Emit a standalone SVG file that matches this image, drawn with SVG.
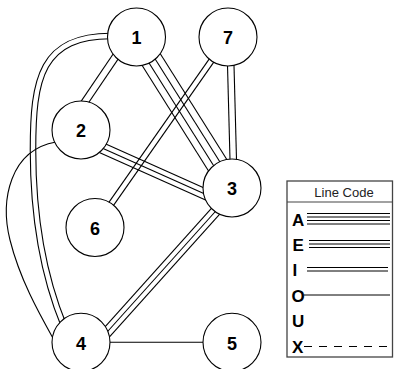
<svg xmlns="http://www.w3.org/2000/svg" width="397" height="369" viewBox="0 0 397 369">
<style>
.e{fill:none;stroke:#000;stroke-width:1.1}
.w{fill:none;stroke:#fff}
.n circle{fill:#fff;stroke:#000;stroke-width:1.1}
.n text{font-family:"Liberation Sans",Arial,sans-serif;font-weight:bold;font-size:18px;text-anchor:middle;fill:#000}
.lg{font-family:"Liberation Sans",Arial,sans-serif;font-weight:bold;font-size:17px;fill:#000}
.ln{stroke:#000;stroke-width:1}
</style>
<rect width="397" height="369" fill="#fff"/>
<g id="connectors">
  <path d="M115 36 C40 34, 33 80, 33 150 C33 220, 45 280, 64 326" fill="none" stroke="#000" stroke-width="6.6"/>
  <path d="M115 36 C40 34, 33 80, 33 150 C33 220, 45 280, 64 326" class="w" stroke-width="4.4"/>
  <path class="e" d="M56 142 C10 150, 0 200, 10 240 S40 315, 54 340"/>
  <line class="e" x1="127.86" y1="42.75" x2="222.86" y2="193.75"/>
  <line class="e" x1="133.95" y1="38.92" x2="228.95" y2="189.92"/>
  <line class="e" x1="140.05" y1="35.08" x2="235.05" y2="186.08"/>
  <line class="e" x1="146.14" y1="31.25" x2="241.14" y2="182.25"/>
  <line class="e" x1="226.75" y1="37.09" x2="230.75" y2="188.09"/>
  <line class="e" x1="233.25" y1="36.91" x2="237.25" y2="187.91"/>
  <line class="e" x1="230.25" y1="38.58" x2="97.25" y2="228.58"/>
  <line class="e" x1="225.75" y1="35.42" x2="92.75" y2="225.42"/>
  <line class="e" x1="133.7" y1="36.17" x2="71.6" y2="127.77"/>
  <line class="e" x1="127.9" y1="32.24" x2="65.8" y2="123.84"/>
  <line class="e" x1="73.5" y1="135.2" x2="227.8" y2="204.2"/>
  <line class="e" x1="71.38" y1="139.95" x2="225.68" y2="208.95"/>
  <line class="e" x1="75.62" y1="130.45" x2="229.92" y2="199.45"/>
  <line class="e" x1="236.45" y1="188" x2="98.16" y2="342"/>
  <line class="e" x1="240.17" y1="191.34" x2="101.88" y2="345.34"/>
  <line class="e" x1="232.73" y1="184.66" x2="94.44" y2="338.66"/>
  <line class="e" x1="81" y1="342.3" x2="232" y2="342.3"/>
</g>
<g id="node1" class="n"><circle cx="136.5" cy="37" r="29"/><text x="136.5" y="44">1</text></g>
<g id="node7" class="n"><circle cx="228" cy="37" r="29"/><text x="228" y="44">7</text></g>
<g id="node2" class="n"><circle cx="81" cy="130" r="29"/><text x="81" y="137">2</text></g>
<g id="node3" class="n"><circle cx="232" cy="188" r="29"/><text x="232" y="195">3</text></g>
<g id="node6" class="n"><circle cx="95" cy="227.5" r="29"/><text x="95" y="234.5">6</text></g>
<g id="node4" class="n"><circle cx="81" cy="342.3" r="29"/><text x="81" y="349.5">4</text></g>
<g id="node5" class="n"><circle cx="232" cy="342.3" r="29"/><text x="232" y="349.5">5</text></g>
<g id="legend">
  <rect x="287" y="181" width="105.5" height="176" fill="#fff" stroke="#444" stroke-width="1.3"/>
  <line x1="287" y1="202" x2="392.5" y2="202" stroke="#444" stroke-width="1.2"/>
  <text x="344" y="196.5" font-family="'Liberation Sans',Arial,sans-serif" font-size="13" text-anchor="middle" fill="#222">Line Code</text>
  <text class="lg" x="292" y="225.5">A</text>
  <text class="lg" x="292.5" y="250.5">E</text>
  <text class="lg" x="292.5" y="275.5">I</text>
  <text class="lg" x="291.5" y="301.5">O</text>
  <text class="lg" x="292" y="327">U</text>
  <text class="lg" x="292" y="353">X</text>
  <g class="ln">
    <line x1="307" y1="213.5" x2="390" y2="213.5"/>
    <line x1="307" y1="217" x2="390" y2="217"/>
    <line x1="307" y1="220.5" x2="390" y2="220.5"/>
    <line x1="307" y1="224" x2="390" y2="224"/>
    <line x1="309" y1="240.5" x2="390" y2="240.5"/>
    <line x1="309" y1="244" x2="390" y2="244"/>
    <line x1="309" y1="247.5" x2="390" y2="247.5"/>
    <line x1="307" y1="267.5" x2="388" y2="267.5"/>
    <line x1="307" y1="271" x2="388" y2="271"/>
    <line x1="304" y1="295" x2="390" y2="295"/>
    <line x1="304" y1="346.5" x2="387" y2="346.5" stroke-dasharray="8 7"/>
  </g>
</g>
</svg>
